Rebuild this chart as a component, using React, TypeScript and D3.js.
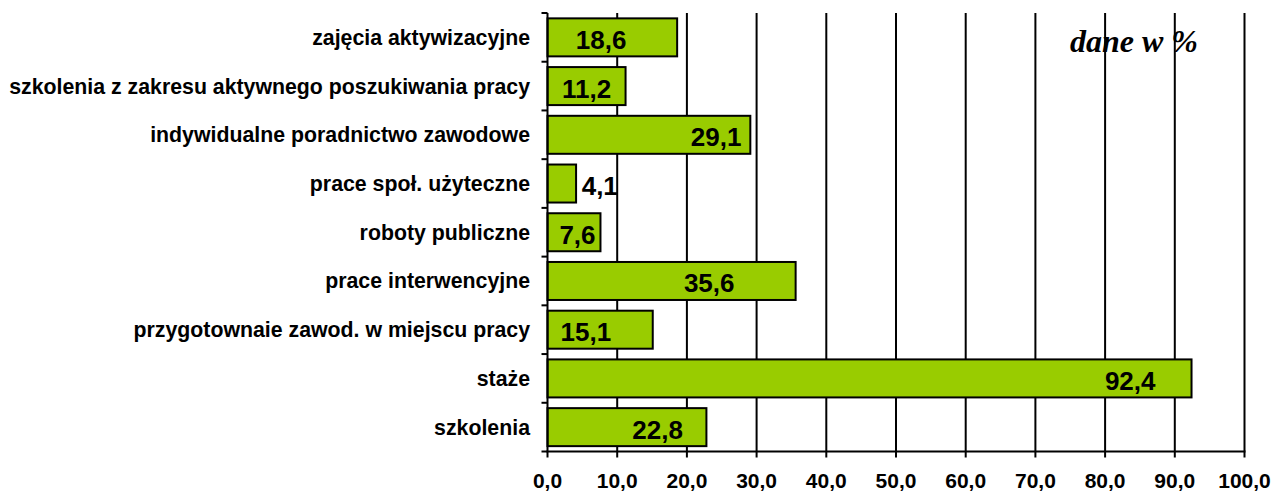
import React, { useEffect, useRef } from "react";
import * as d3 from "d3";

const categories = [
  "zajęcia aktywizacyjne",
  "szkolenia z zakresu aktywnego poszukiwania pracy",
  "indywidualne poradnictwo zawodowe",
  "prace społ. użyteczne",
  "roboty publiczne",
  "prace interwencyjne",
  "przygotownaie zawod. w miejscu pracy",
  "staże",
  "szkolenia",
];
const values = [18.6, 11.2, 29.1, 4.1, 7.6, 35.6, 15.1, 92.4, 22.8];
// where each value label sits (centre), in data units
const labelAt = [7.7, 5.6, 24.2, 7.5, 4.3, 23.2, 5.5, 83.6, 15.8];
const xTicks = [0, 10, 20, 30, 40, 50, 60, 70, 80, 90, 100];
const unitNote = "dane w %";

const W = 1274;
const H = 492;

export default function App() {
  const ref = useRef<SVGSVGElement>(null);

  useEffect(() => {
    document.body.style.margin = "0";
    const svg = d3.select(ref.current);
    svg.selectAll("*").remove();

    const x = d3.scaleLinear().domain([0, 100]).range([547.5, 1244.5]);
    const y = d3
      .scaleBand<string>()
      .domain(categories)
      .range([13, 451.5])
      .paddingInner(0.22)
      .paddingOuter(0.11);

    const top = 13;
    const bottom = 451.5;
    const fmt = (v: number) => v.toFixed(1).replace(".", ",");

    // gridlines
    svg
      .append("g")
      .selectAll("line")
      .data(xTicks.slice(1))
      .join("line")
      .attr("x1", (d) => x(d))
      .attr("x2", (d) => x(d))
      .attr("y1", top)
      .attr("y2", bottom)
      .attr("stroke", "#000")
      .attr("stroke-width", 2);

    // unit note
    svg
      .append("text")
      .attr("x", 1070)
      .attr("y", 52)
      .attr("font-family", "'Liberation Serif', 'Times New Roman', serif")
      .attr("font-style", "italic")
      .attr("font-weight", "bold")
      .attr("font-size", 32)
      .attr("fill", "#000")
      .text(unitNote);

    // bars
    svg
      .append("g")
      .selectAll("rect")
      .data(values)
      .join("rect")
      .attr("x", x(0))
      .attr("y", (_, i) => y(categories[i])!)
      .attr("width", (d) => x(d) - x(0))
      .attr("height", y.bandwidth())
      .attr("fill", "#99CC00")
      .attr("stroke", "#000")
      .attr("stroke-width", 2);

    // axes
    const axisG = svg.append("g");
    axisG
      .append("line")
      .attr("x1", x(0))
      .attr("x2", x(0))
      .attr("y1", top)
      .attr("y2", bottom)
      .attr("stroke", "#000")
      .attr("stroke-width", 2);
    axisG
      .append("line")
      .attr("x1", x(0) - 1)
      .attr("x2", x(100) + 1)
      .attr("y1", bottom)
      .attr("y2", bottom)
      .attr("stroke", "#000")
      .attr("stroke-width", 2);

    const step = y.step();
    const boundaries = d3.range(categories.length + 1).map((i) => top + i * step);
    axisG
      .selectAll("line.yt")
      .data(boundaries)
      .join("line")
      .attr("class", "yt")
      .attr("x1", x(0) - 6)
      .attr("x2", x(0))
      .attr("y1", (d) => d)
      .attr("y2", (d) => d)
      .attr("stroke", "#000")
      .attr("stroke-width", 2);

    axisG
      .selectAll("line.xt")
      .data(xTicks)
      .join("line")
      .attr("class", "xt")
      .attr("x1", (d) => x(d))
      .attr("x2", (d) => x(d))
      .attr("y1", bottom)
      .attr("y2", bottom + 6)
      .attr("stroke", "#000")
      .attr("stroke-width", 2);

    axisG
      .selectAll("text.xl")
      .data(xTicks)
      .join("text")
      .attr("class", "xl")
      .attr("x", (d) => x(d))
      .attr("y", 488)
      .attr("text-anchor", "middle")
      .attr("font-family", "'Liberation Sans', Arial, sans-serif")
      .attr("font-weight", "bold")
      .attr("font-size", 21)
      .attr("fill", "#000")
      .text((d) => fmt(d));

    // category labels
    svg
      .append("g")
      .selectAll("text")
      .data(categories)
      .join("text")
      .attr("x", 530)
      .attr("y", (d) => y(d)! + y.bandwidth() / 2 + 7.5)
      .attr("text-anchor", "end")
      .attr("font-family", "'Liberation Sans', Arial, sans-serif")
      .attr("font-weight", "bold")
      .attr("font-size", 21.3)
      .attr("fill", "#000")
      .text((d) => d);

    // value labels
    svg
      .append("g")
      .selectAll("text")
      .data(values)
      .join("text")
      .attr("x", (_, i) => x(labelAt[i]))
      .attr("y", (_, i) => y(categories[i])! + y.bandwidth() / 2 + 11.5)
      .attr("text-anchor", "middle")
      .attr("font-family", "'Liberation Sans', Arial, sans-serif")
      .attr("font-weight", "bold")
      .attr("font-size", 26)
      .attr("fill", "#000")
      .text((d) => fmt(d));
  }, []);

  return <svg ref={ref} width={W} height={H} style={{ display: "block", background: "#fff" }} />;
}
